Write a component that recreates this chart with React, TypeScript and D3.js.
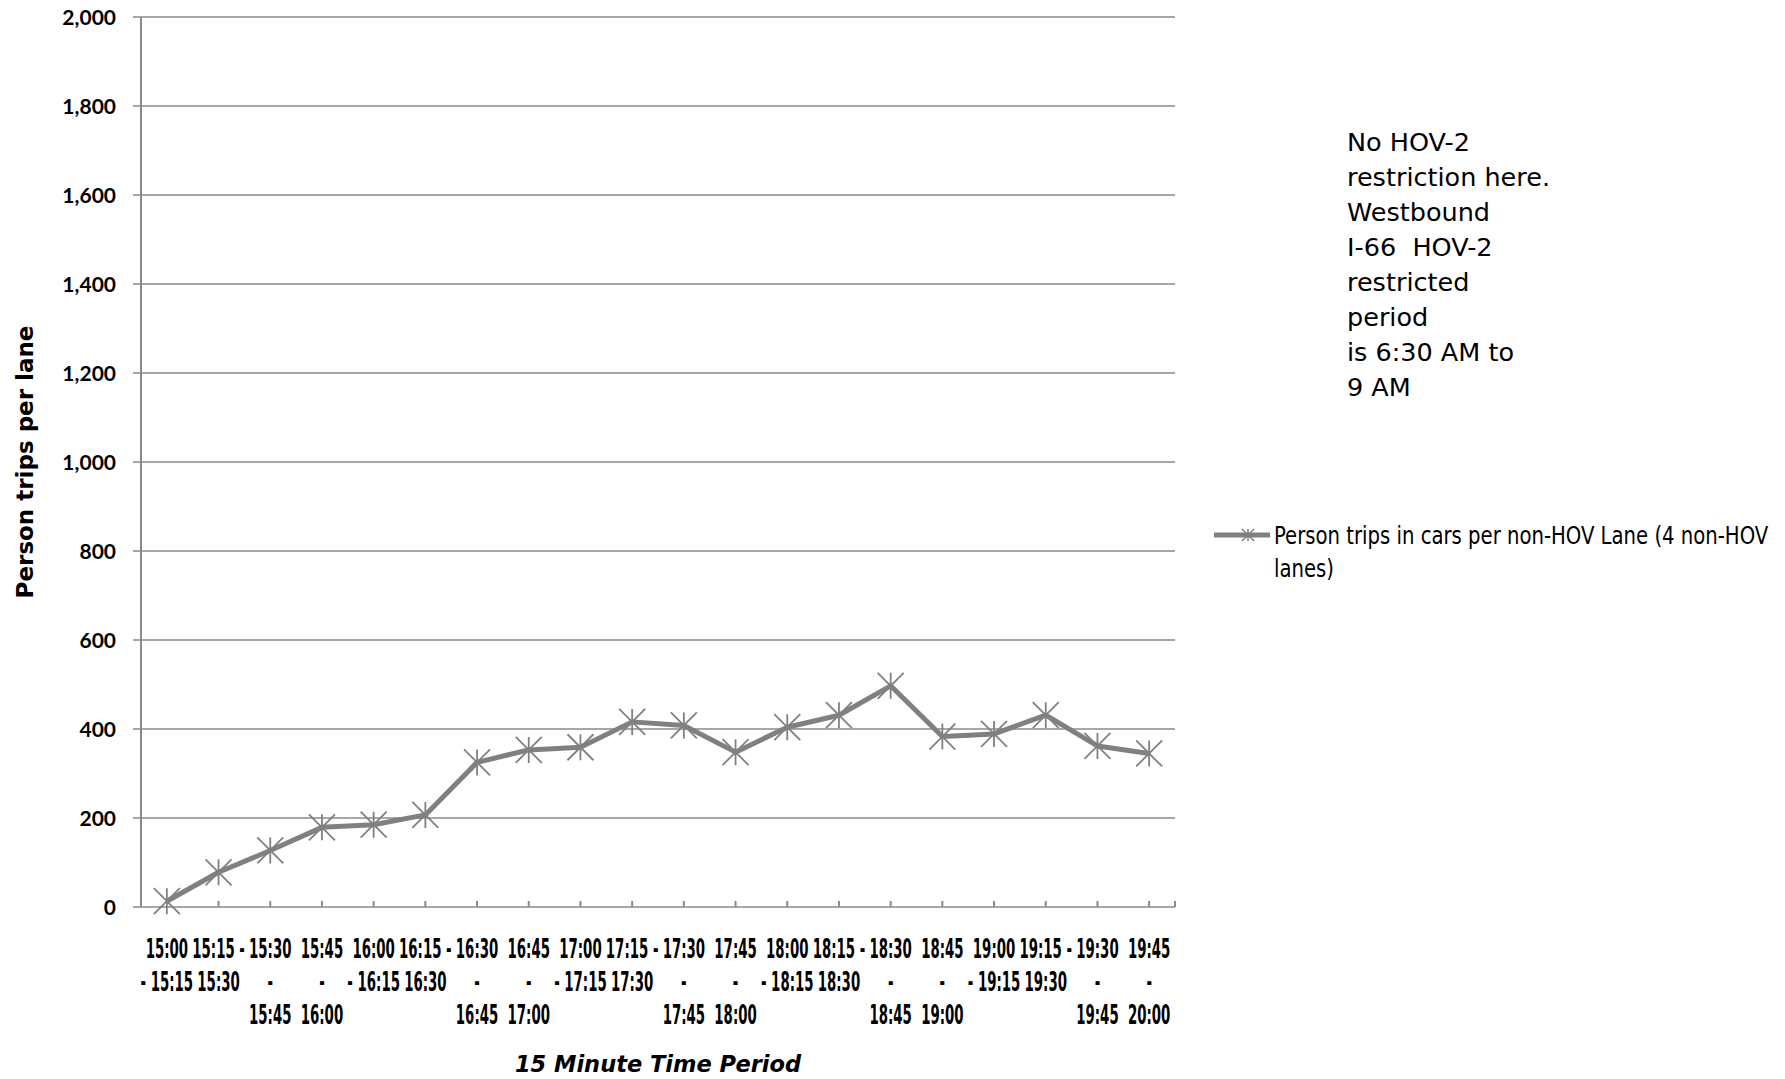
import React from "react";
import * as d3 from "d3";

const categories: string[] = [
  "15:00\n- 15:15", "15:15 -\n15:30", "15:30\n-\n15:45", "15:45\n-\n16:00",
  "16:00\n- 16:15", "16:15 -\n16:30", "16:30\n-\n16:45", "16:45\n-\n17:00",
  "17:00\n- 17:15", "17:15 -\n17:30", "17:30\n-\n17:45", "17:45\n-\n18:00",
  "18:00\n- 18:15", "18:15 -\n18:30", "18:30\n-\n18:45", "18:45\n-\n19:00",
  "19:00\n- 19:15", "19:15 -\n19:30", "19:30\n-\n19:45", "19:45\n-\n20:00",
];
const personTrips: number[] = [
  13, 78, 127, 179, 185, 207, 325, 353, 359, 416,
  408, 348, 404, 431, 497, 383, 389, 431, 362, 345,
];
const yTicks: number[] = [0, 200, 400, 600, 800, 1000, 1200, 1400, 1600, 1800, 2000];
const seriesName = ["Person trips in cars per non-HOV Lane (4 non-HOV", "lanes)"];
const noteLines = [
  "No HOV-2", "restriction here.", "Westbound", "I-66  HOV-2",
  "restricted", "period", "is 6:30 AM to", "9 AM",
];
const xTitle = "15 Minute Time Period";
const yTitle = "Person trips per lane";

const W = 1785, H = 1079;
const L = 141, R = 1175, T = 17, B = 907;
const GRAY = "#8a8a8a";
const LINE = "#808080";
const condensed = "'DejaVu Sans Condensed', 'DejaVu Sans', sans-serif";

function star(s: number) {
  return `M${-s},${-s}L${s},${s}M${-s},${s}L${s},${-s}M0,${-s}L0,${s}`;
}

export default function App() {
  const x = d3.scaleBand<string>().domain(categories).range([L, R]).padding(0);
  const y = d3.scaleLinear().domain([0, 2000]).range([B, T]);
  const cx = (c: string) => (x(c) as number) + x.bandwidth() / 2;
  const line = d3.line<number>().x((_, i) => cx(categories[i])).y((v) => y(v));
  const fmt = d3.format(",");

  return (
    <svg width={W} height={H} style={{ position: "absolute", left: 0, top: 0, background: "#fff" }}>
      <rect x={0} y={0} width={W} height={H} fill="#fff" />
      {yTicks.map((t) => (
        <line key={"g" + t} x1={L - 8} x2={R} y1={y(t)} y2={y(t)} stroke={GRAY} strokeWidth={1.6} />
      ))}
      <line x1={L} x2={L} y1={T} y2={B} stroke={GRAY} strokeWidth={2} />
      {categories.map((c, i) =>
        i > 0 ? <line key={"t" + i} x1={cx(c)} x2={cx(c)} y1={B} y2={B - 6} stroke={GRAY} strokeWidth={2} /> : null
      )}
      <line x1={R} x2={R} y1={B} y2={B - 6} stroke={GRAY} strokeWidth={2} />
      {yTicks.map((t) => (
        <text key={"yl" + t} x={116} y={y(t)} dy="0.36em" textAnchor="end"
          fontFamily="Lato, sans-serif" fontWeight={700} fontSize={21} fill="#000">{fmt(t)}</text>
      ))}
      {categories.map((c, i) => (
        <g key={"xl" + i} transform={`translate(${cx(c)},0) scale(0.57,1)`}>
          {c.split("\n").map((ln, j) => (
            <text key={j} x={0} y={958 + j * 33} textAnchor="middle" fontFamily={condensed}
              fontWeight={700} fontSize={26} fill="#000" style={{ whiteSpace: "pre" }}>{ln}</text>
          ))}
        </g>
      ))}
      <path d={line(personTrips) || ""} fill="none" stroke={LINE} strokeWidth={5} strokeLinejoin="round" />
      {personTrips.map((v, i) => (
        <path key={"m" + i} d={star(13)} transform={`translate(${cx(categories[i])},${y(v)})`}
          stroke={LINE} strokeWidth={1.8} fill="none" />
      ))}
      <text x={(L + R) / 2} y={1072} textAnchor="middle" fontFamily="'DejaVu Sans', sans-serif"
        fontWeight={700} fontStyle="italic" fontSize={22.5} fill="#000">{xTitle}</text>
      <text transform={`translate(33,${(T + B) / 2}) rotate(-90)`} textAnchor="middle"
        fontFamily="'DejaVu Sans', sans-serif" fontWeight={700} fontSize={23} fill="#000">{yTitle}</text>
      {noteLines.map((t, i) => (
        <text key={"n" + i} x={1347} y={151 + i * 35} fontFamily="'DejaVu Sans', sans-serif"
          fontSize={25.5} fill="#000" style={{ whiteSpace: "pre" }}>{t}</text>
      ))}
      <line x1={1214} x2={1270} y1={535} y2={535} stroke={LINE} strokeWidth={5} />
      <path d={star(6)} transform="translate(1248,535)" stroke={LINE} strokeWidth={1.5} fill="none" />
      <g transform="translate(1274,0) scale(0.875,1)">
        {seriesName.map((t, i) => (
          <text key={"s" + i} x={0} y={544 + i * 33} fontFamily="'Liberation Sans Narrow', 'DejaVu Sans Condensed', sans-serif"
            fontSize={25} fill="#000">{t}</text>
        ))}
      </g>
    </svg>
  );
}
